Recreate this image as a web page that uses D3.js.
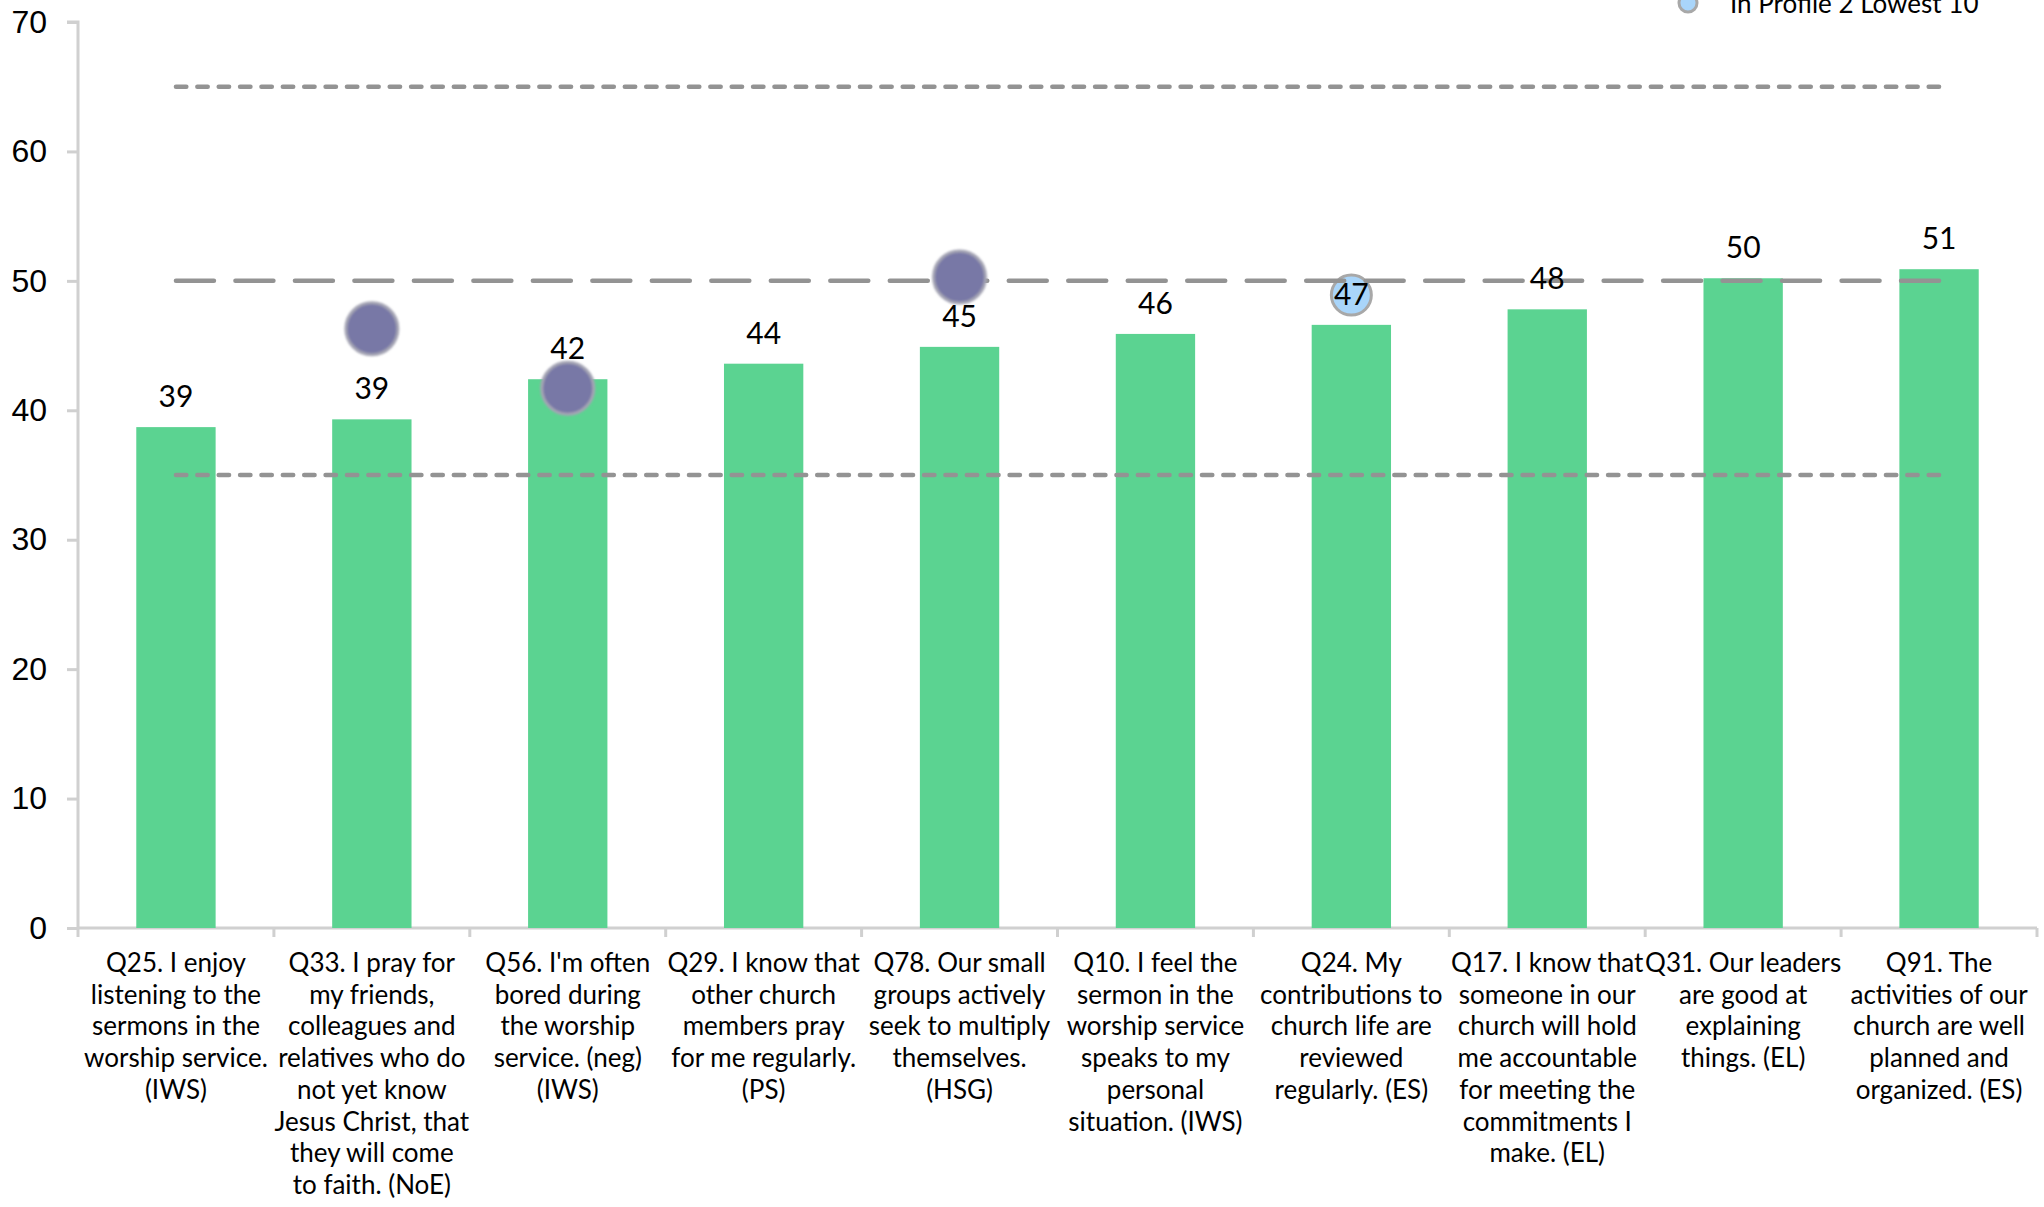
<!DOCTYPE html>
<html>
<head>
<meta charset="utf-8">
<script src="https://cdn.jsdelivr.net/npm/d3@7"></script>
<style>
  body { margin: 0; background: #fff; }
  svg { display: block; font-family: Lato, "Open Sans", sans-serif; }
  .axis path, .axis line { stroke: #d0d0d0; stroke-width: 3; }
  .axis text { fill: #000; }
</style>
</head>
<body>
<div id="chart-area"></div>
<script>
// Question labels, already broken into lines as in the original
const questions = [
    ["Q25. I enjoy", "listening to the", "sermons in the", "worship service.", "(IWS)"],
    ["Q33. I pray for", "my friends,", "colleagues and", "relatives who do", "not yet know", "Jesus Christ, that", "they will come", "to faith. (NoE)"],
    ["Q56. I'm often", "bored during", "the worship", "service. (neg)", "(IWS)"],
    ["Q29. I know that", "other church", "members pray", "for me regularly.", "(PS)"],
    ["Q78. Our small", "groups actively", "seek to multiply", "themselves.", "(HSG)"],
    ["Q10. I feel the", "sermon in the", "worship service", "speaks to my", "personal", "situation. (IWS)"],
    ["Q24. My", "contributions to", "church life are", "reviewed", "regularly. (ES)"],
    ["Q17. I know that", "someone in our", "church will hold", "me accountable", "for meeting the", "commitments I", "make. (EL)"],
    ["Q31. Our leaders", "are good at", "explaining", "things. (EL)"],
    ["Q91. The", "activities of our", "church are well", "planned and", "organized. (ES)"]
]

// Bar values
const scores = [38.7, 39.3, 42.4, 43.6, 44.9, 45.9, 46.6, 47.8, 50.2, 50.9]
const scoreLabels = ["39", "39", "42", "44", "45", "46", "47", "48", "50", "51"]

// Marker series (index of question, value)
const profileMarks = [[1, 46.3], [2, 41.7], [4, 50.3]]
const lowestMarks = [[6, 48.9]]

// Reference lines
const refDotted = [65, 35]
const refDashed = [50]

const yTicks = [0, 10, 20, 30, 40, 50, 60, 70]
const legendLabel = "In Profile 2 Lowest 10"

const W = 2044, H = 1207
const margin = {left: 78, right: 7, top: 22, bottom: 279}
const width = W - margin.left - margin.right,
    height = H - margin.top - margin.bottom

const svg = d3.select("#chart-area").append("svg")
    .attr("width", W)
    .attr("height", H)

const defs = svg.append("defs")
defs.append("filter").attr("id", "soft")
    .attr("x", "-20%").attr("y", "-20%").attr("width", "140%").attr("height", "140%")
    .append("feGaussianBlur").attr("stdDeviation", 1.3)

const g = svg.append("g")
    .attr("transform", `translate(${margin.left}, ${margin.top})`)

// Scales
const x = d3.scaleBand()
    .domain(d3.range(questions.length))
    .range([0, width])
    .padding(0)
const y = d3.scaleLinear().domain([0, 70]).range([height, 0])

const barW = x.bandwidth() * 0.405
const cx = i => x(i) + x.bandwidth() / 2

// Y axis
const yAxis = g.append("g")
    .attr("class", "y axis")
    .call(d3.axisLeft(y).tickValues(yTicks).tickSize(11).tickPadding(20))
yAxis.select(".domain").attr("d", `M-11,0H0V${height}`)
yAxis.selectAll("text").attr("font-size", "32px")

// X axis (ticks on band edges, labels under band centres)
const xAxis = g.append("g")
    .attr("class", "x axis")
    .attr("transform", `translate(0, ${height})`)
xAxis.append("path")
    .attr("class", "domain")
    .attr("fill", "none")
    .attr("d", `M0,0H${width}`)
xAxis.selectAll(".edge")
    .data(d3.range(questions.length + 1))
    .enter().append("line")
    .attr("class", "edge")
    .attr("x1", i => i < questions.length ? x(i) : width)
    .attr("x2", i => i < questions.length ? x(i) : width)
    .attr("y1", 0)
    .attr("y2", 9)

const labels = xAxis.selectAll(".qlabel")
    .data(questions)
    .enter().append("text")
    .attr("class", "qlabel")
    .attr("text-anchor", "middle")
    .attr("font-size", "26px")
    .attr("y", 44)
labels.selectAll("tspan")
    .data((d, i) => d.map(line => ({line, i})))
    .enter().append("tspan")
    .attr("x", d => cx(d.i))
    .attr("dy", (d, j) => j === 0 ? 0 : 31.7)
    .text(d => d.line)

// Bars
g.selectAll(".bar")
    .data(scores)
    .enter().append("rect")
    .attr("class", "bar")
    .attr("x", (d, i) => cx(i) - barW / 2)
    .attr("y", d => y(d))
    .attr("width", barW)
    .attr("height", d => height - y(d))
    .attr("fill", "#5bd391")

// Light blue markers (sit under the reference lines)
const blueMark = (sel) => sel
    .attr("fill", "#a9d5fa")
    .attr("stroke", "#a8a8a8")
    .attr("stroke-width", 3)

g.selectAll(".lowest")
    .data(lowestMarks)
    .enter().append("circle")
    .attr("class", "lowest")
    .attr("cx", d => cx(d[0]))
    .attr("cy", d => y(d[1]))
    .attr("r", 20)
    .call(blueMark)

// Reference lines from first to last band centre; dash pattern fitted so
// the line ends on a dash
const x0 = cx(0), x1 = cx(questions.length - 1)
const fitDash = (dash, gap) => {
    const len = x1 - x0
    const n = Math.round((len + gap) / (dash + gap))
    return `${(len - (n - 1) * gap) / n},${gap}`
}

g.selectAll(".ref-dot")
    .data(refDotted)
    .enter().append("line")
    .attr("class", "ref-dot")
    .attr("x1", x0).attr("x2", x1)
    .attr("y1", d => y(d)).attr("y2", d => y(d))
    .attr("stroke", "#939393")
    .attr("stroke-width", 4.5)
    .attr("stroke-linecap", "round")
    .attr("stroke-dasharray", fitDash(10.5, 11))

g.selectAll(".ref-dash")
    .data(refDashed)
    .enter().append("line")
    .attr("class", "ref-dash")
    .attr("x1", x0).attr("x2", x1)
    .attr("y1", d => y(d)).attr("y2", d => y(d))
    .attr("stroke", "#939393")
    .attr("stroke-width", 4.5)
    .attr("stroke-linecap", "round")
    .attr("stroke-dasharray", fitDash(37.5, 21.5))

// Purple markers
g.selectAll(".profile")
    .data(profileMarks)
    .enter().append("circle")
    .attr("class", "profile")
    .attr("cx", d => cx(d[0]))
    .attr("cy", d => y(d[1]))
    .attr("r", 26)
    .attr("fill", "#7878a6")
    .attr("stroke", "#a4a4b4")
    .attr("stroke-width", 3)
    .attr("filter", "url(#soft)")

// Value labels
g.selectAll(".val")
    .data(scores)
    .enter().append("text")
    .attr("class", "val")
    .attr("x", (d, i) => cx(i))
    .attr("y", d => y(d) - 20)
    .attr("text-anchor", "middle")
    .attr("font-size", "30px")
    .attr("fill", "#000")
    .text((d, i) => scoreLabels[i])

// Legend (top edge of the picture crops it, as in the original)
const legend = svg.append("g").attr("transform", "translate(1688, 3)")
legend.append("circle").attr("r", 9).call(blueMark)
legend.append("text")
    .attr("x", 42)
    .attr("y", 10)
    .attr("font-size", "26px")
    .text(legendLabel)
</script>
</body>
</html>
